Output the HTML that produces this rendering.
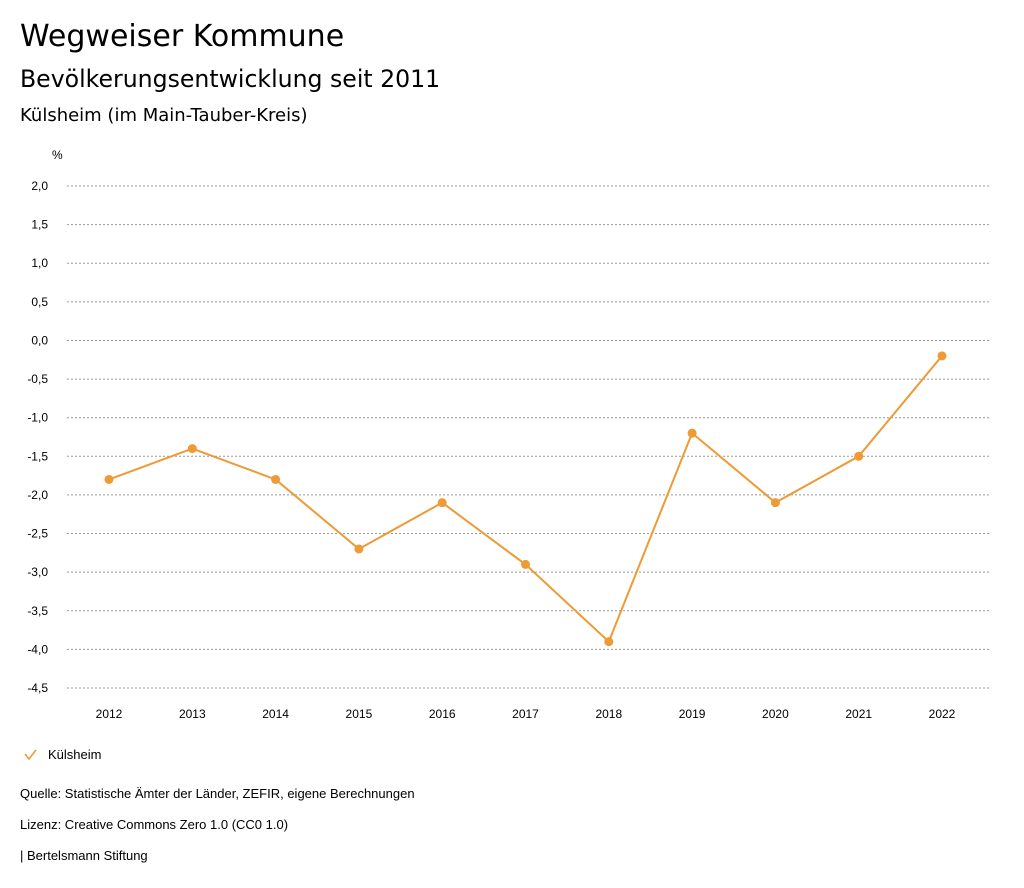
<!DOCTYPE html>
<html><head><meta charset="utf-8"><style>
body{margin:0;background:#fff;font-family:"Liberation Sans","DejaVu Sans",sans-serif;color:#000;}
.t{position:absolute;left:20px;white-space:nowrap;}
.d{font-family:"DejaVu Sans","Liberation Sans",sans-serif;}
</style></head><body>
<div style="position:relative;width:1024px;height:888px;overflow:hidden">
<div class="t d" style="top:19px;font-size:30px">Wegweiser Kommune</div>
<div class="t d" style="top:65px;font-size:23.6px">Bevölkerungsentwicklung seit 2011</div>
<div class="t d" style="top:105px;font-size:18px">Külsheim (im Main-Tauber-Kreis)</div>
<svg id="chart" width="1024" height="888" style="position:absolute;left:0;top:0" font-family="Liberation Sans, sans-serif" font-size="12"></svg>
<div class="t" style="top:786px;font-size:13px">Quelle: Statistische Ämter der Länder, ZEFIR, eigene Berechnungen</div>
<div class="t" style="top:817px;font-size:13px">Lizenz: Creative Commons Zero 1.0 (CC0 1.0)</div>
<div class="t" style="top:848px;font-size:13px">| Bertelsmann Stiftung</div>
</div>
<script>
const years=[2012,2013,2014,2015,2016,2017,2018,2019,2020,2021,2022];
const values=[-1.8,-1.4,-1.8,-2.7,-2.1,-2.9,-3.9,-1.2,-2.1,-1.5,-0.2];
const yTicks=[2.0,1.5,1.0,0.5,0.0,-0.5,-1.0,-1.5,-2.0,-2.5,-3.0,-3.5,-4.0,-4.5];
const svg=document.getElementById('chart');const NS='http://www.w3.org/2000/svg';
const y=v=>186+(2.0-v)/6.5*502;
const x=i=>109+i*(942-109)/(years.length-1);
function mk(t,a,txt){const e=document.createElementNS(NS,t);for(const k in a)e.setAttribute(k,a[k]);if(txt!==undefined)e.textContent=txt;svg.appendChild(e);return e;}
const u=mk('text',{x:52,y:159,'font-size':12,'text-anchor':'start'},'%');


yTicks.forEach(v=>{
 const g=mk('line',{x1:67,x2:990,y1:y(v),y2:y(v),stroke:'#999','stroke-dasharray':'2,2','stroke-width':1});
 
 
 const t=mk('text',{x:48,y:y(v)+4,'text-anchor':'end'},v.toFixed(1).replace('.',','));
 
 
});
years.forEach((yr,i)=>{
 const t=mk('text',{x:x(i),y:718,'text-anchor':'middle'},yr);
 
 
});
const p=mk('polyline',{points:values.map((v,i)=>x(i)+','+y(v)).join(' '),fill:'none',stroke:'#ee9a35','stroke-width':2});


values.forEach((v,i)=>{
 const c=mk('circle',{cx:x(i),cy:y(v),r:4.5,fill:'#ee9a35'});
 
 
});
const ck=mk('polyline',{points:'25,754 29,759 36,750',fill:'none',stroke:'#ee9a35','stroke-width':1.6});


const lt=mk('text',{x:48,y:759,'font-size':13},'Külsheim');


</script>
</body></html>
